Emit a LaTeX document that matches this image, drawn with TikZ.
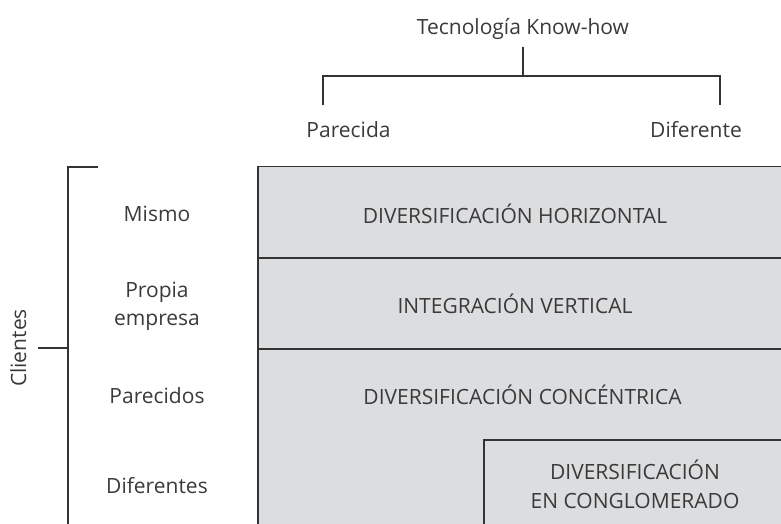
\documentclass[tikz,border=0pt]{standalone}
\usepackage{fontspec}
\setmainfont{Open Sans}
\definecolor{boxgray}{HTML}{DCDDDF}
\definecolor{linecol}{HTML}{333333}
\definecolor{txtcol}{HTML}{3A3A3A}
\begin{document}
\begin{tikzpicture}[x=1pt,y=-1pt,
  ln/.style={draw=linecol,line width=1.2pt},
  lbl/.style={font=\fontsize{21}{28.5}\selectfont,text=txtcol,inner sep=0pt,align=center,text height=15pt,text depth=0pt},
  cell/.style={fill=boxgray,draw=linecol,line width=1.2pt}]
\useasboundingbox (0,0) rectangle (781,524);
\begin{scope}
\clip (0,0) rectangle (781,524);
% main gray area
\path[cell] (258,166.5) rectangle (800,540);
\draw[ln] (258,258) -- (800,258);
\draw[ln] (258,349) -- (800,349);
\path[cell] (484,440) rectangle (800,540);
% left bracket
\coordinate (bt) at (68,167);
\coordinate (bb) at (68,540);
\coordinate (btick) at (98,167);
\coordinate (bm) at (68,348);
\coordinate (bl) at (38,348);
\draw[ln] (btick) -- (bt) -- (bb);
\draw[ln] (bm) -- (bl);
\end{scope}
% top tree
\node[lbl] (tec) at (523,27.5) {Tecnología Know-how};
\coordinate (tt) at (523,47);
\coordinate (tm) at (523,76);
\coordinate (tl) at (323,76);
\coordinate (tr) at (720,76);
\coordinate (tlb) at (323,105);
\coordinate (trb) at (720,105);
\draw[ln] (tt) -- (tm);
\draw[ln] (tlb) -- (tl) -- (tr) -- (trb);
\node[lbl] (par) at (348.5,130.5) {Parecida};
\node[lbl] (dif) at (696,130.5) {Diferente};
% row labels
\node[lbl,rotate=90] (cli) at (18.5,348) {Clientes};
\node[lbl] (mis) at (157,213.5) {Mismo};
\node[lbl] (pro) at (157,318) {Propia\\empresa};
\node[lbl] (pars) at (157,395.5) {Parecidos};
\node[lbl] (difs) at (157,485.5) {Diferentes};
% cell texts
\node[lbl] (dh) at (515,216) {DIVERSIFICACIÓN HORIZONTAL};
\node[lbl] (iv) at (515,306) {INTEGRACIÓN VERTICAL};
\node[lbl] (dc) at (522.5,396.5) {DIVERSIFICACIÓN CONCÉNTRICA};
\node[lbl] (dco) at (635,500.5) {DIVERSIFICACIÓN\\EN CONGLOMERADO};
\end{tikzpicture}
\end{document}
